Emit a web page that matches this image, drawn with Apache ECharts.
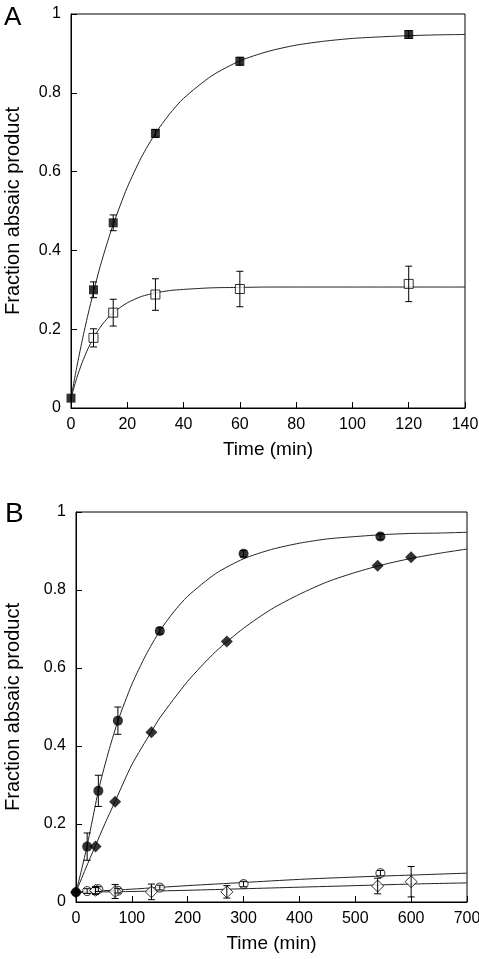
<!DOCTYPE html>
<html>
<head>
<meta charset="utf-8">
<script src="https://cdn.jsdelivr.net/npm/echarts@6/dist/echarts.min.js"></script>
<style>
html,body{margin:0;padding:0;background:#fff;}
#c{width:479px;height:959px;}
</style>
</head>
<body>
<div id="c"></div>
<script>
// ---------- Panel A data ----------
const timeA = [0, 8, 15, 30, 60, 120];
const filledA = [0.025, 0.300, 0.470, 0.697, 0.880, 0.948];
const filledAErr = [0, 0.020, 0.020, 0.010, 0.010, 0.010];
const openTimeA = [8, 15, 30, 60, 120];
const openA = [0.178, 0.242, 0.288, 0.302, 0.315];
const openAErr = [0.023, 0.034, 0.040, 0.045, 0.045];
const curveTimeA = [0, 2, 4, 6, 8, 10, 12, 15, 20, 25, 30, 35, 40, 50, 60, 70, 80, 90, 100, 110, 120, 130, 140];
const filledFitA = [0.025, 0.102, 0.172, 0.236, 0.295, 0.350, 0.399, 0.466, 0.560, 0.636, 0.697, 0.746, 0.786, 0.843, 0.881, 0.905, 0.921, 0.931, 0.938, 0.942, 0.945, 0.947, 0.948];
const openFitA = [0.025, 0.075, 0.116, 0.150, 0.178, 0.201, 0.220, 0.242, 0.267, 0.283, 0.292, 0.298, 0.301, 0.305, 0.306, 0.307, 0.307, 0.307, 0.307, 0.307, 0.307, 0.307, 0.307];

// ---------- Panel B data ----------
const circleTime = [0, 20, 40, 75, 150, 300, 545];
const circleB = [0.025, 0.142, 0.285, 0.465, 0.695, 0.893, 0.937];
const circleErr = [0, 0.035, 0.040, 0.035, 0.008, 0.008, 0.008];
const diamondTime = [0, 35, 70, 135, 270, 540, 600];
const diamondB = [0.025, 0.142, 0.257, 0.435, 0.668, 0.862, 0.884];
const openCircleTime = [20, 35, 40, 75, 150, 300, 545];
const openCircleB = [0.028, 0.029, 0.033, 0.029, 0.037, 0.046, 0.074];
const openCircleErr = [0.006, 0.008, 0.006, 0.006, 0.006, 0.007, 0.007];
const openDiamondTime = [35, 70, 135, 270, 540, 600];
const openDiamondB = [0.030, 0.027, 0.026, 0.026, 0.041, 0.052];
const openDiamondErr = [0.010, 0.018, 0.020, 0.016, 0.020, 0.039];

const circleFitTime = [0, 10, 20, 30, 40, 50, 60, 75, 100, 125, 150, 175, 200, 250, 300, 350, 400, 450, 500, 550, 600, 650, 700];
const circleFit = [0.025, 0.083, 0.145, 0.215, 0.285, 0.342, 0.394, 0.464, 0.558, 0.633, 0.695, 0.744, 0.784, 0.842, 0.880, 0.904, 0.920, 0.931, 0.937, 0.942, 0.945, 0.946, 0.948];
const diamondFitTime = [0, 17, 35, 50, 70, 100, 135, 150, 200, 250, 300, 350, 400, 450, 500, 550, 600, 650, 700];
const diamondFit = [0.025, 0.085, 0.145, 0.195, 0.258, 0.352, 0.437, 0.472, 0.566, 0.642, 0.702, 0.751, 0.789, 0.821, 0.845, 0.865, 0.881, 0.894, 0.905];
const lowFitTime = [0, 100, 200, 300, 400, 500, 600, 700];
const openCircleFit = [0.025, 0.033, 0.042, 0.050, 0.058, 0.064, 0.069, 0.074];
const openDiamondFit = [0.025, 0.027, 0.030, 0.034, 0.038, 0.042, 0.046, 0.049];

const yTicks = ['0', '0.2', '0.4', '0.6', '0.8', '1'];
const yTitle = 'Fraction absaic product';
const xTitle = 'Time (min)';

const FONT = '"Liberation Sans", Arial, sans-serif';
const zip = (xs, ys, es) => xs.map((x, i) => es ? [x, ys[i], es[i]] : [x, ys[i]]);

function errRender(params, api) {
  const x = api.value(0), y = api.value(1), e = api.value(2);
  if (!e) return null;
  const top = api.coord([x, y + e]);
  const bot = api.coord([x, y - e]);
  const w = 3.5;
  const st = { stroke: '#000', lineWidth: 1 };
  return {
    type: 'group',
    children: [
      { type: 'line', shape: { x1: top[0], y1: top[1], x2: bot[0], y2: bot[1] }, style: st },
      { type: 'line', shape: { x1: top[0] - w, y1: top[1], x2: top[0] + w, y2: top[1] }, style: st },
      { type: 'line', shape: { x1: bot[0] - w, y1: bot[1], x2: bot[0] + w, y2: bot[1] }, style: st }
    ]
  };
}

function xAxis(gridIndex, max, interval, gap) {
  return {
    type: 'value', gridIndex, min: 0, max, interval,
    axisLine: { lineStyle: { color: '#000', width: 1 } },
    axisTick: { inside: true, length: 6, lineStyle: { color: '#000' } },
    splitLine: { show: false },
    axisLabel: { color: '#000', fontSize: 16, fontFamily: FONT, margin: 9 },
    name: xTitle, nameLocation: 'middle', nameGap: gap,
    nameTextStyle: { color: '#000', fontSize: 19, fontFamily: FONT }
  };
}
function yAxis(gridIndex, gap) {
  return {
    type: 'value', gridIndex, min: 0, max: 1, interval: 0.2,
    axisLine: { show: true, lineStyle: { color: '#000', width: 1 } },
    axisTick: { show: true, inside: true, length: 6, lineStyle: { color: '#000' } },
    splitLine: { show: false },
    axisLabel: { color: '#000', fontSize: 16, fontFamily: FONT, margin: 10,
      formatter: (v) => yTicks[Math.round(v / 0.2)] },
    name: yTitle, nameLocation: 'middle', nameGap: gap, nameRotate: 90,
    nameTextStyle: { color: '#000', fontSize: 20, fontFamily: FONT }
  };
}
function curve(xi, xs, ys) {
  return { type: 'line', xAxisIndex: xi, yAxisIndex: xi, data: zip(xs, ys), showSymbol: false,
    smooth: 0.25, lineStyle: { color: '#222', width: 1 }, z: 1, silent: true };
}
function marks(xi, xs, ys, symbol, size, filled) {
  return { type: 'scatter', xAxisIndex: xi, yAxisIndex: xi, data: zip(xs, ys), symbol, symbolSize: size,
    itemStyle: filled ? { color: '#000' } : { color: '#fff', borderColor: '#000', borderWidth: 1 }, z: 2 };
}
function errs(xi, xs, ys, es) {
  return { type: 'custom', xAxisIndex: xi, yAxisIndex: xi, data: zip(xs, ys, es), renderItem: errRender, z: 3, silent: true };
}

const chart = echarts.init(document.getElementById('c'), null, { renderer: 'canvas' });
chart.setOption({
  animation: false,
  backgroundColor: '#fff',
  title: [
    { text: 'A', left: -1, top: 0, textStyle: { fontSize: 26, fontWeight: 'normal', fontFamily: FONT, color: '#000' } },
    { text: 'B', left: 0, top: 495, textStyle: { fontSize: 28, fontWeight: 'normal', fontFamily: FONT, color: '#000' } }
  ],
  grid: [
    { left: 71, top: 14, width: 394, height: 394, show: true, borderColor: '#000', borderWidth: 1,
      backgroundColor: 'transparent', containLabel: false, outerBoundsMode: 'none' },
    { left: 76, top: 512, width: 391, height: 390, show: true, borderColor: '#000', borderWidth: 1,
      backgroundColor: 'transparent', containLabel: false, outerBoundsMode: 'none' }
  ],
  xAxis: [xAxis(0, 140, 20, 32), xAxis(1, 700, 100, 32)],
  yAxis: [yAxis(0, 48), yAxis(1, 53)],
  series: [
    curve(0, curveTimeA, filledFitA),
    curve(0, curveTimeA, openFitA),
    marks(0, timeA, filledA, 'rect', 9, true),
    marks(0, openTimeA, openA, 'rect', 9, false),
    errs(0, timeA, filledA, filledAErr),
    errs(0, openTimeA, openA, openAErr),

    curve(1, circleFitTime, circleFit),
    curve(1, diamondFitTime, diamondFit),
    curve(1, lowFitTime, openCircleFit),
    curve(1, lowFitTime, openDiamondFit),
    marks(1, openCircleTime, openCircleB, 'circle', 9, false),
    marks(1, openDiamondTime, openDiamondB, 'diamond', 12, false),
    marks(1, circleTime, circleB, 'circle', 10, true),
    marks(1, diamondTime, diamondB, 'diamond', 12, true),
    errs(1, circleTime, circleB, circleErr),
    errs(1, openCircleTime, openCircleB, openCircleErr),
    errs(1, openDiamondTime, openDiamondB, openDiamondErr)
  ]
});
</script>
</body>
</html>
